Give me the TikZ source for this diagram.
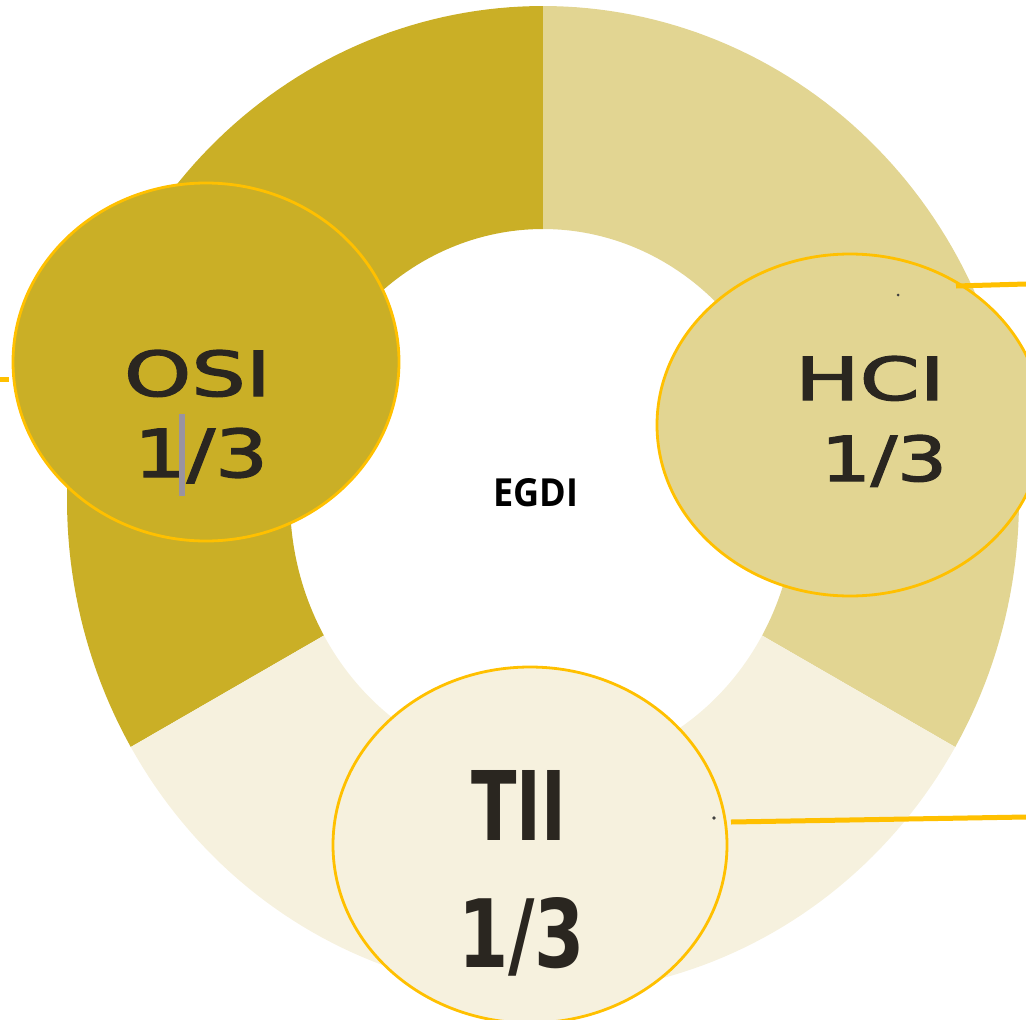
\documentclass[tikz,border=0pt]{standalone}
\usepackage{fontspec}
\setmainfont{DejaVu Sans}
\newfontfamily\midfont[FakeBold=2]{DejaVu Sans}
\newfontfamily\egdifont{Open Sans}
\usetikzlibrary{shapes.geometric}
\definecolor{osicol}{HTML}{CAAF26}
\definecolor{hcicol}{HTML}{E2D592}
\definecolor{tiicol}{HTML}{F6F1DE}
\definecolor{ringline}{HTML}{FFC000}
\definecolor{labeltext}{HTML}{2A2620}
\definecolor{barcol}{HTML}{9A93A0}
\tikzset{
  hilite/.style={ellipse, draw=ringline, line width=2.8pt, inner sep=0pt, outer sep=0pt},
  leader/.style={draw=ringline, line width=5pt},
  lbl/.style={anchor=base, inner sep=0pt, outer sep=0pt, text=labeltext, font=\midfont\fontsize{40}{40}\selectfont},
  lblbold/.style={lbl, font=\bfseries\fontsize{40}{40}\selectfont},
  speck/.style={fill=black!75}
}
\begin{document}
\begin{tikzpicture}[x=1pt,y=-1pt]
\useasboundingbox (0,0) rectangle (1026,1020);
\clip (0,0) rectangle (1026,1020);
% donut segments
\fill[osicol] plot[domain=-90:-210,samples=90] ({543+476*cos(\x)},{500+494*sin(\x)})
  -- plot[domain=-210:-90,samples=90] ({543+253*cos(\x)},{500+271*sin(\x)}) -- cycle;
\fill[hcicol] plot[domain=-90:30,samples=90] ({543+476*cos(\x)},{500+494*sin(\x)})
  -- plot[domain=30:-90,samples=90] ({543+253*cos(\x)},{500+271*sin(\x)}) -- cycle;
\fill[tiicol] plot[domain=30:150,samples=90] ({543+476*cos(\x)},{500+494*sin(\x)})
  -- plot[domain=150:30,samples=90] ({543+253*cos(\x)},{500+271*sin(\x)}) -- cycle;
% highlight ellipses
\node[hilite, fill=osicol, minimum width=386pt, minimum height=358pt] (osi) at (206,362) {};
\node[hilite, fill=hcicol, minimum width=386pt, minimum height=342pt] (hci) at (850,425) {};
\node[hilite, fill=tiicol, minimum width=394pt, minimum height=356pt] (tii) at (530,845) {};
% leader lines
\coordinate (osiL) at (0,379);
\coordinate (osiR) at (9,379);
\coordinate (hciA) at (956,286);
\coordinate (hciB) at (1026,284);
\coordinate (tiiA) at (731,822);
\coordinate (tiiB) at (1026,817);
\draw[leader] (osiL) -- (osiR);
\draw[leader] (hciA) -- (hciB);
\draw[leader] (tiiA) -- (tiiB);
% specks
\fill[speck] (898,295) circle[radius=1.5pt];
\fill[speck] (714,818) circle[radius=1.8pt];
% labels
\node[lbl] (osiname) at (197.5,396) {\resizebox{147pt}{46pt}{OSI}};
\node[lbl] (osival) at (201,477) {\resizebox{134pt}{49pt}{1/3}};
\fill[barcol] (179,414) rectangle (185,496);
\node[lbl] (hciname) at (870,400) {\resizebox{150pt}{44pt}{HCI}};
\node[lbl] (hcival) at (884,481) {\resizebox{126pt}{46pt}{1/3}};
\node[lblbold] (tiiname) at (518.5,840) {\resizebox{95pt}{70pt}{TII}};
\node[lblbold] (tiival) at (521.5,967) {\resizebox{127pt}{70pt}{1/3}};
\node[anchor=base, inner sep=0pt, text=black] (egdi) at (535.5,506) {\egdifont\bfseries\resizebox{85pt}{28pt}{EGDI}};
\end{tikzpicture}
\end{document}
